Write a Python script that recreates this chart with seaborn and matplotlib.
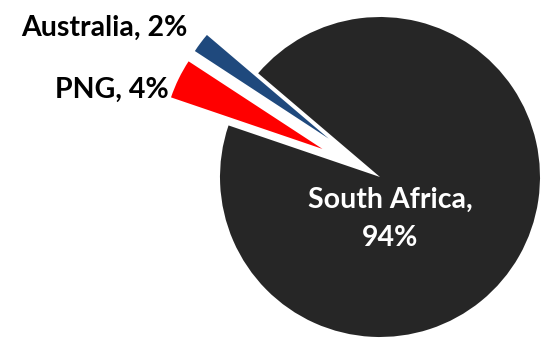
import matplotlib
matplotlib.use("Agg")
import matplotlib.pyplot as plt
import seaborn as sns

countries = ["Australia", "PNG", "South Africa"]
shares = [2, 4, 94]
colors = ["#1F497D", "#FF0000", "#262626"]
explode = [0.4, 0.4, 0.0]

sns.set_theme(style="white")
plt.rcParams["font.family"] = ["Lato", "DejaVu Sans"]

fig = plt.figure(figsize=(5.47, 3.45), dpi=100)
ax = fig.add_axes([0, 0, 1, 1])
wedges, _ = ax.pie(shares, colors=colors, explode=explode, startangle=139.6,
                   counterclock=True, radius=1.0,
                   wedgeprops=dict(linewidth=0))
ax.set_xlim(-2.375, 1.04375)
ax.set_ylim(-1.05, 1.10625)
ax.set_aspect("equal")
ax.axis("off")

def px(x, y):
    return ((x - 380) / 160.0, (177 - y) / 160.0)

fs = 20.5
lab = [f"{c}, {s}%" for c, s in zip(countries, shares)]
ax.text(*px(104, 28), lab[0], ha="center", va="center", fontsize=fs,
        fontweight="bold", color="black")
ax.text(*px(112, 90), lab[1], ha="center", va="center", fontsize=fs,
        fontweight="bold", color="black")
ax.text(*px(390, 200), f"{countries[2]},", ha="center", va="center",
        fontsize=fs, fontweight="bold", color="white")
ax.text(*px(390, 238), f"{shares[2]}%", ha="center", va="center",
        fontsize=fs, fontweight="bold", color="white")

fig.savefig("out.png", dpi=100)
